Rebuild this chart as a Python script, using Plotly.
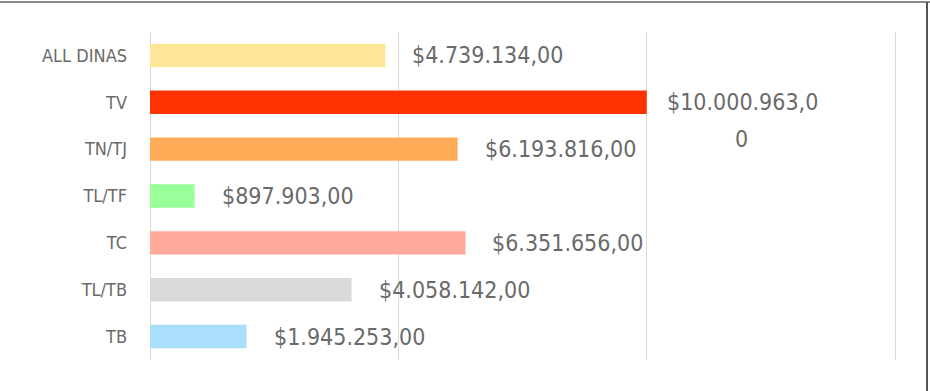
import plotly.graph_objects as go

categories = ["TB", "TL/TB", "TC", "TL/TF", "TN/TJ", "TV", "ALL DINAS"]
values = [1945253, 4058142, 6351656, 897903, 6193816, 10000963, 4739134]
labels = ["$1.945.253,00", "$4.058.142,00", "$6.351.656,00", "$897.903,00",
          "$6.193.816,00", "$10.000.963,0", "$4.739.134,00"]
colors = ["#A9DFFA", "#D9D9D9", "#FFAA9C", "#99FF99", "#FFAB57", "#FF3300", "#FFE699"]

FONT = "DejaVu Sans Condensed, Liberation Sans, Arial, sans-serif"
TXT = "#6A6A6A"
VSIZE = 23

fig = go.Figure(go.Bar(
    x=values, y=categories, orientation="h",
    marker=dict(color=colors, line=dict(width=0)),
    hoverinfo="skip",
))

annotations = []
for c, v, lab in zip(categories, values, labels):
    shift = 18 if c == "TV" else 25
    annotations.append(dict(x=v, y=c, xref="x", yref="y", text=lab,
                            showarrow=False, xanchor="left", yanchor="middle",
                            xshift=shift, font=dict(family=FONT, size=VSIZE, color=TXT)))
    if c == "TV":
        annotations.append(dict(x=v, y=c, xref="x", yref="y", text="0",
                                showarrow=False, xanchor="center", yanchor="middle",
                                xshift=shift + 77, yshift=-37,
                                font=dict(family=FONT, size=VSIZE, color=TXT)))

fig.update_layout(
    width=930, height=391,
    margin=dict(l=150, r=30, t=32, b=31),
    paper_bgcolor="white", plot_bgcolor="white",
    bargap=0.5,
    showlegend=False,
    annotations=annotations,
    xaxis=dict(range=[0, 15100000], dtick=5000000, tick0=0, showticklabels=False,
               showgrid=True, gridcolor="#D9D9D9", gridwidth=1,
               zeroline=True, zerolinecolor="#D9D9D9", zerolinewidth=1,
               showline=False, fixedrange=True),
    yaxis=dict(categoryorder="array", categoryarray=categories,
               tickfont=dict(family=FONT, size=18, color=TXT),
               ticks="", showgrid=False, zeroline=False, showline=False,
               ticklabelstandoff=22, fixedrange=True),
    shapes=[
        dict(type="line", xref="paper", yref="paper",
             x0=-0.25, x1=1.04, y0=1.0915, y1=1.0915,
             line=dict(color="#8A8A8A", width=2)),
        dict(type="line", xref="paper", yref="paper",
             x0=1.036, x1=1.036, y0=-0.2, y1=1.0915,
             line=dict(color="#555555", width=2)),
    ],
)

fig.write_html("out.html", config={"displayModeBar": False})
